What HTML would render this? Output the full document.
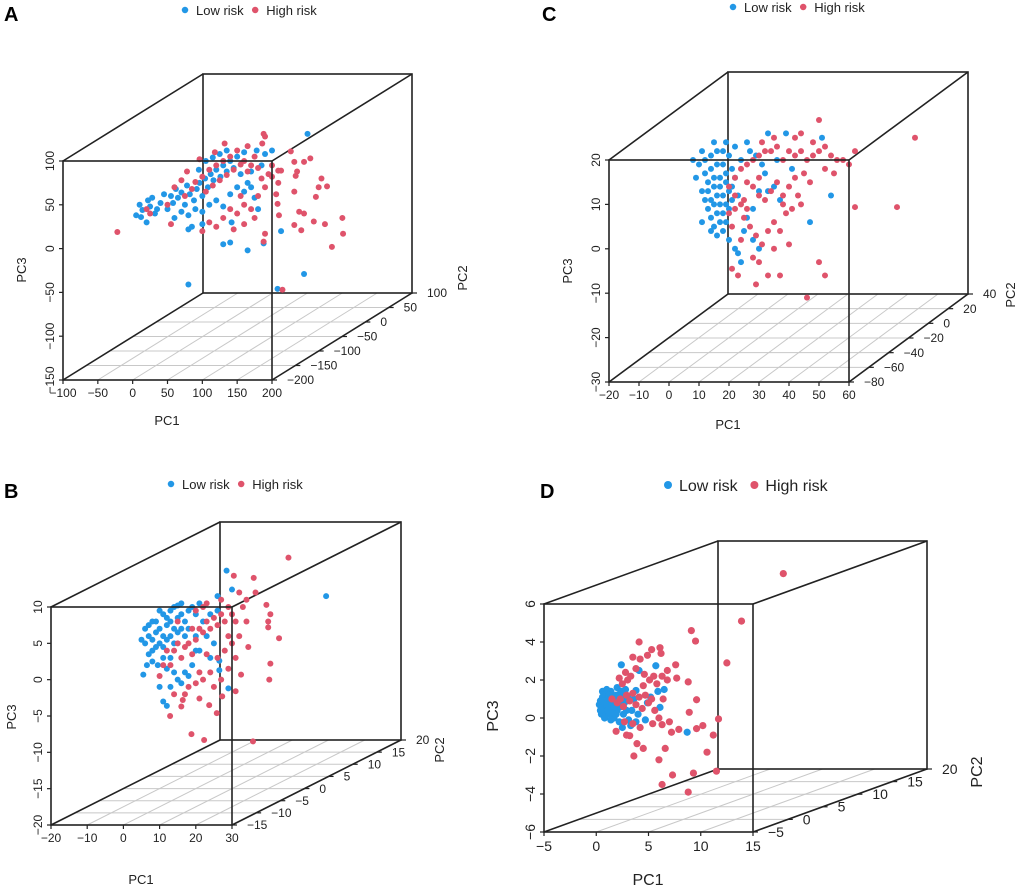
<!DOCTYPE html>
<html><head><meta charset="utf-8"><style>
body{margin:0;background:#fff}
svg{display:block;font-family:"Liberation Sans",Arial,sans-serif}
</style></head><body>
<svg id="chart" width="1020" height="889" viewBox="0 0 1020 889"></svg>
<script>
const seriesNames=["Low risk","High risk"];
// Panel A
const aBlueX=[10,14,5,12,25,28,22,35,40,45,32,20,50,55,58,62,65,70,75,78,82,88,92,96,100,104,108,112,116,120,126,130,135,140,145,150,155,160,165,170,175,180,185,190,60,70,80,90,100,110,120,130,140,150,160,170,95,105,115,125,135,142,80,85,100,130,140,165,188,213,246,208,80,251,200,178];
const aBlueY=[50,44,38,36,48,58,55,45,52,62,40,30,45,60,52,68,58,64,50,72,62,55,68,75,60,80,70,85,78,90,82,95,88,100,92,105,85,110,75,70,58,45,95,108,35,42,38,45,42,50,55,48,62,70,65,88,90,100,104,108,112,30,22,25,28,5,7,-2,6,20,-29,-46,-41,131,112,112];
const aRedX=[-22,301,302,286,276,260,242,232,246,239,263,267,279,271,232,234,236,246,255,232,227,209,213,209,206,208,210,190,188,215,188,190,186,165,132,96,78,20,25,50,60,70,75,85,90,100,105,110,115,120,125,130,135,140,145,150,155,160,165,170,175,180,185,190,195,200,155,160,170,175,150,140,130,120,110,100,145,160,180,118,200,55];
const aRedY=[19,35,17,2,28,31,21,27,40,42,59,70,71,80,65,83,88,99,103,99,111,89,89,75,62,51,38,17,8,-47,131,128,120,117,120,102,88,45,40,50,70,78,60,68,76,82,65,90,72,95,78,100,84,105,90,112,96,100,88,95,105,92,80,70,85,95,60,50,45,35,40,45,35,25,30,20,22,28,60,110,82,28];
// Panel C
const cBlueX=[8,54,47,51,39,33,10,12,14,16,18,20,12,14,16,18,13,15,17,19,21,11,13,15,17,19,22,12,14,16,18,20,13,15,17,19,21,14,16,18,20,15,17,19,16,18,20,22,23,24,26,28,30,32,24,27,29,31,35,37,25,28,30,22,26,41,36,33,11,15,19,9,11,14,21,23];
const cBlueY=[20,12,6,25,26,26,19,20,21,22,22,21,17,18,19,19,15,16,16,17,18,13,13,14,14,15,16,11,11,12,12,13,9,10,10,10,11,7,8,8,9,5,6,6,3,4,2,0,-1,-3,7,9,13,17,20,22,21,19,14,11,4,2,0,23,24,18,20,13,22,24,24,16,6,4,14,12];
const cRedX=[82,76,62,50,50,52,46,29,33,37,21,23,20,22,24,26,28,30,32,34,36,38,40,42,44,46,48,50,52,54,56,58,60,62,45,42,40,38,36,34,32,30,28,26,24,22,20,25,27,29,31,33,35,37,39,41,43,25,28,30,24,21,35,38,44,47,52,55,30,26,22,40,48,44,42,35,31];
const cRedY=[25,9.4,9.4,29,-3,-6,-11,-8,-6,-6,-4.5,-6,14,16,18,19,20,21,22,22,23,20,22,21,22,20,21,22,23,21,20,20,19,22,17,16,14,12,15,13,11,12,14,15,10,9,8,7,5,3,1,4,6,4,8,9,12,11,-2,-3,2,5,0,10,10,15,18,17,16,9,12,1,24,26,25,25,24];
// Panel B
const bBlueX=[56,28.5,30,26,5.5,11,12,29,26.5,26.5,6,7,8,9,10,11,12,13,14,15,16,17,18,19,20,21,7,8,9,10,11,12,13,14,15,16,17,18,6.5,8,9.5,11,12,13,14,15,13,16,17,10,12,11,14,16,7,22,23,25,24,20,19,18,9,10,13,15,20,21,5,6,8,24,26];
const bBlueY=[11.5,15,12.4,11.5,0.7,-3,-3.6,-1.2,1.3,2.6,5,6,5.5,6.5,7,6,7.5,8,7,8.5,9,8,9.5,10,9,10.5,3.5,4,4.5,5,4.5,5.5,6,5,6.5,7,6,7,2,2.5,2,3,1.5,3,1,0,-1,-0.5,1,-1,8.5,9,10,10.5,7.5,8,6,5,3,4,2,0.5,8,9.5,9.5,10.2,6,4,5.5,7,8,9,9.5];
const bRedX=[45.6,30.5,36,36.5,39.5,40.6,40,40,43,40.6,40.3,34,34.5,32.5,31,27.3,25.8,18.8,22.3,35.8,12.9,16.4,21,23.7,16,14,15,16,17,18,19,20,21,22,23,24,25,26,27,28,29,30,31,32,30,28,26,24,22,20,18,17,13,12,11,10,14,19,20,22,23,27,29,31,33,34,32,25,27,15,29,21,23];
const bRedY=[16.8,14.3,14,12,10.3,9,8,7.2,5.7,2.2,0,8,4.5,0.7,-1.6,-2.3,-4.6,-7.5,-8.3,-8.5,-5,-2.8,-2.6,-3.5,-3.7,4,5,3,4.5,5,3.5,5.5,7,6.5,8,7,8.5,7.5,9,8,10,9,8,6,5,4,3,1,0,-0.5,-1,-2,2,4,2,0.5,-2,7,9.5,10,10.5,11,6,3,10,11,12,-1,0,8,1.5,1,3.5];
// Panel D
const dBlueX=[0.3,0.4,0.5,0.6,0.7,0.8,0.9,1.0,1.1,1.2,1.3,1.4,1.5,1.6,1.7,1.8,1.9,2.0,2.1,2.2,2.3,2.4,2.5,2.6,2.7,2.8,2.9,3.0,3.1,0.5,0.6,0.8,1.0,1.2,1.4,1.6,2.0,2.2,0.4,0.7,1.1,1.3,1.7,1.9,2.4,3.4,3.6,3.8,2.4,5.7,4.1,3.8,6.5,5.9,6.1,4.9,4.7,8.7,2.5,4.0,3.3,5.2];
const dBlueY=[0.7,0.9,0.5,1.1,0.3,0.8,1.3,0.6,1.0,0.2,0.8,1.4,0.5,1.1,0.0,0.7,1.2,0.4,0.9,-0.2,1.3,0.6,1.0,0.2,0.8,1.5,0.4,1.1,-0.1,0.2,1.4,0.0,1.5,1.2,-0.1,0.3,1.6,0.6,0.4,0.9,0.4,1.0,0.6,0.2,1.4,0.4,1.0,-0.2,2.8,2.75,2.5,1.45,1.5,1.4,0.56,0.8,-0.1,-0.75,-0.5,0.2,-0.4,1.1];
const dRedX=[17.9,13.9,12.5,9.1,9.5,4.1,6.1,6.2,7.6,7.7,8.8,9.6,8.9,11.7,11.2,10.2,9.6,10.6,11.5,9.3,7.3,8.8,6.3,3.6,6,6.6,3.9,4.5,7.9,7.2,6.3,1.9,2.9,3.2,2.0,2.3,2.6,2.9,3.2,3.5,3.8,4.1,4.4,4.7,5.0,5.3,5.6,2.5,3.0,3.3,2.8,4.2,4.6,5.1,5.5,6.3,6.8,4.9,5.3,3.5,2.2,1.5,6.0,5.4,4.2,3.5,2.7,6.4,5.8,7.0,3.8,4.5,6.8];
const dRedY=[7.6,5.1,2.9,4.6,4.05,4,3.7,3.4,2.8,2.1,1.9,0.96,0.3,-0.05,-0.9,-0.4,-0.56,-1.8,-2.8,-2.9,-3,-3.9,-3.5,-2,-2.2,-1.6,-1.35,-1.6,-0.6,-0.75,-0.35,-0.7,-0.9,-0.93,0.8,1.0,0.6,1.2,0.9,1.3,0.7,1.1,0.5,1.2,0.8,1.0,0.4,1.8,2.0,2.2,2.4,3.1,2.3,2.0,2.2,2.2,2.0,3.3,3.6,3.2,2.1,1.0,0.0,-0.3,-0.5,-0.3,-0.2,1.0,1.8,-0.2,2.6,1.7,2.5];
// Axis ticks
const aX=[-100,-50,0,50,100,150,200], aZ=[-150,-100,-50,0,50,100], aY=[-200,-150,-100,-50,0,50,100];
const cX=[-20,-10,0,10,20,30,40,50,60], cZ=[-30,-20,-10,0,10,20], cY=[-80,-60,-40,-20,0,20,40];
const bX=[-20,-10,0,10,20,30], bZ=[-20,-15,-10,-5,0,5,10], bY=[-15,-10,-5,0,5,10,15,20];
const dX=[-5,0,5,10,15], dZ=[-6,-4,-2,0,2,4,6], dY=[-5,0,5,10,15,20];

const NS="http://www.w3.org/2000/svg";
const svg=document.getElementById('chart');
const BLUE="#2297E6", RED="#DF536B";
function mk(tag,attrs,parent,txt){const e=document.createElementNS(NS,tag);for(const k in attrs)e.setAttribute(k,attrs[k]);if(txt!==undefined)e.textContent=txt;(parent||svg).appendChild(e);return e;}

const panels=[
 {id:'a',letter:'A',lx:4,ly:21,L:63,R:272,T:161,B:380,dx:140,dy:-87,xr:[-100,200],zr:[-150,100],yr:[-200,100],xt:aX,zt:aZ,yt:aY,bx:aBlueX,by:aBlueY,rx:aRedX,ry:aRedY,fs:12,ts:13,r:3,leg:[185,10,13],pc1:[167,425],pc3:[26,270],pc2:[467,278]},
 {id:'c',letter:'C',lx:542,ly:21,L:609,R:849,T:160,B:382,dx:119,dy:-88,xr:[-20,60],zr:[-30,20],yr:[-80,40],xt:cX,zt:cZ,yt:cY,bx:cBlueX,by:cBlueY,rx:cRedX,ry:cRedY,fs:12,ts:13,r:3,leg:[733,7,13],pc1:[728,429],pc3:[572,271],pc2:[1015,295]},
 {id:'b',letter:'B',lx:4,ly:498,L:51,R:232,T:607,B:825,dx:169,dy:-85,xr:[-20,30],zr:[-20,10],yr:[-15,20],xt:bX,zt:bZ,yt:bY,bx:bBlueX,by:bBlueY,rx:bRedX,ry:bRedY,fs:12,ts:13,r:3,leg:[171,484,13],pc1:[141,884],pc3:[16,717],pc2:[444,750]},
 {id:'d',letter:'D',lx:540,ly:498,L:544,R:753,T:604,B:832,dx:174,dy:-63,xr:[-5,15],zr:[-6,6],yr:[-5,20],xt:dX,zt:dZ,yt:dY,bx:dBlueX,by:dBlueY,rx:dRedX,ry:dRedY,fs:14,ts:16,r:3.6,leg:[668,485,16],pc1:[648,885],pc3:[498,716],pc2:[982,772]}
];

panels.forEach(p=>{
 const g=mk('g',{});  
 const sx=v=>p.L+(v-p.xr[0])/(p.xr[1]-p.xr[0])*(p.R-p.L);
 const sz=v=>p.B-(v-p.zr[0])/(p.zr[1]-p.zr[0])*(p.B-p.T);
 const dt=v=>(v-p.yr[0])/(p.yr[1]-p.yr[0]);
 // letter
 const lt=mk('text',{x:p.lx,y:p.ly,'font-size':20,'font-weight':'bold',fill:'#000'},g,p.letter);
  
 // legend
 const [lgx,lgy,lfs]=p.leg;
 const lg=mk('g',{},g);  
 mk('circle',{cx:lgx,cy:lgy,r:lfs*0.25,fill:BLUE},lg);
 mk('text',{x:lgx+11,y:lgy+lfs*0.37,'font-size':lfs,fill:'#222'},lg,seriesNames[0]);
 const off=lfs*5.4;
 mk('circle',{cx:lgx+off,cy:lgy,r:lfs*0.25,fill:RED},lg);
 mk('text',{x:lgx+off+11,y:lgy+lfs*0.37,'font-size':lfs,fill:'#222'},lg,seriesNames[1]);
 // floor grid
 const grid=mk('g',{stroke:'#c8c8c8','stroke-width':1},g);  
 p.yt.forEach(v=>{const t=dt(v);if(t<=0||t>=1)return;mk('line',{x1:p.L+p.dx*t,y1:p.B+p.dy*t,x2:p.R+p.dx*t,y2:p.B+p.dy*t},grid);});
 p.xt.forEach(v=>{const x=sx(v);if(x<=p.L+1||x>=p.R-1)return;mk('line',{x1:x,y1:p.B,x2:x+p.dx,y2:p.B+p.dy},grid);});
 // box
 const bx=mk('g',{stroke:'#222','stroke-width':1.6,fill:'none'},g);  
 mk('rect',{x:p.L+p.dx,y:p.T+p.dy,width:p.R-p.L,height:p.B-p.T},bx);
 [[p.L,p.T],[p.R,p.T],[p.L,p.B],[p.R,p.B]].forEach(([x,y])=>mk('line',{x1:x,y1:y,x2:x+p.dx,y2:y+p.dy},bx));
 // points
 const pts=mk('g',{},g);  
 p.bx.forEach((v,i)=>{const c=mk('circle',{cx:sx(v),cy:sz(p.by[i]),r:p.r,fill:BLUE},pts);
   });
 p.rx.forEach((v,i)=>{const c=mk('circle',{cx:sx(v),cy:sz(p.ry[i]),r:p.r,fill:RED},pts);
   });
 mk('rect',{x:p.L,y:p.T,width:p.R-p.L,height:p.B-p.T,fill:'none',stroke:'#222','stroke-width':1.6},g);
 // ticks
 const tk=mk('g',{stroke:'#222','stroke-width':1.2},g);
 const tl=mk('g',{'font-size':p.fs,fill:'#222'},g);
  
 p.xt.forEach(v=>{const x=sx(v);mk('line',{x1:x,y1:p.B,x2:x,y2:p.B+4},tk);mk('text',{x:x,y:p.B+p.fs+5,'text-anchor':'middle'},tl,v<0?'\u2212'+(-v):String(v));});
 p.zt.forEach(v=>{const y=sz(v);mk('line',{x1:p.L,y1:y,x2:p.L-4,y2:y},tk);const t=mk('text',{x:p.L-9,y:y,'text-anchor':'middle',transform:`rotate(-90 ${p.L-9} ${y})`},tl,v<0?'\u2212'+(-v):String(v));});
 p.yt.forEach(v=>{const t=dt(v);const x=p.R+p.dx*t,y=p.B+p.dy*t;mk('line',{x1:x,y1:y,x2:x+5,y2:y},tk);mk('text',{x:x+15,y:y+p.fs*0.35},tl,v<0?'\u2212'+(-v):String(v));});
 // axis titles
 const t1=mk('text',{x:p.pc1[0],y:p.pc1[1],'font-size':p.ts,'text-anchor':'middle',fill:'#222'},g,'PC1');
  
 const t3=mk('text',{x:p.pc3[0],y:p.pc3[1],'font-size':p.ts,'text-anchor':'middle',fill:'#222',transform:`rotate(-90 ${p.pc3[0]} ${p.pc3[1]})`},g,'PC3');
  
 const t2=mk('text',{x:p.pc2[0],y:p.pc2[1],'font-size':p.ts,'text-anchor':'middle',fill:'#222',transform:`rotate(-90 ${p.pc2[0]} ${p.pc2[1]})`},g,'PC2');
  
});
</script>
</body></html>
